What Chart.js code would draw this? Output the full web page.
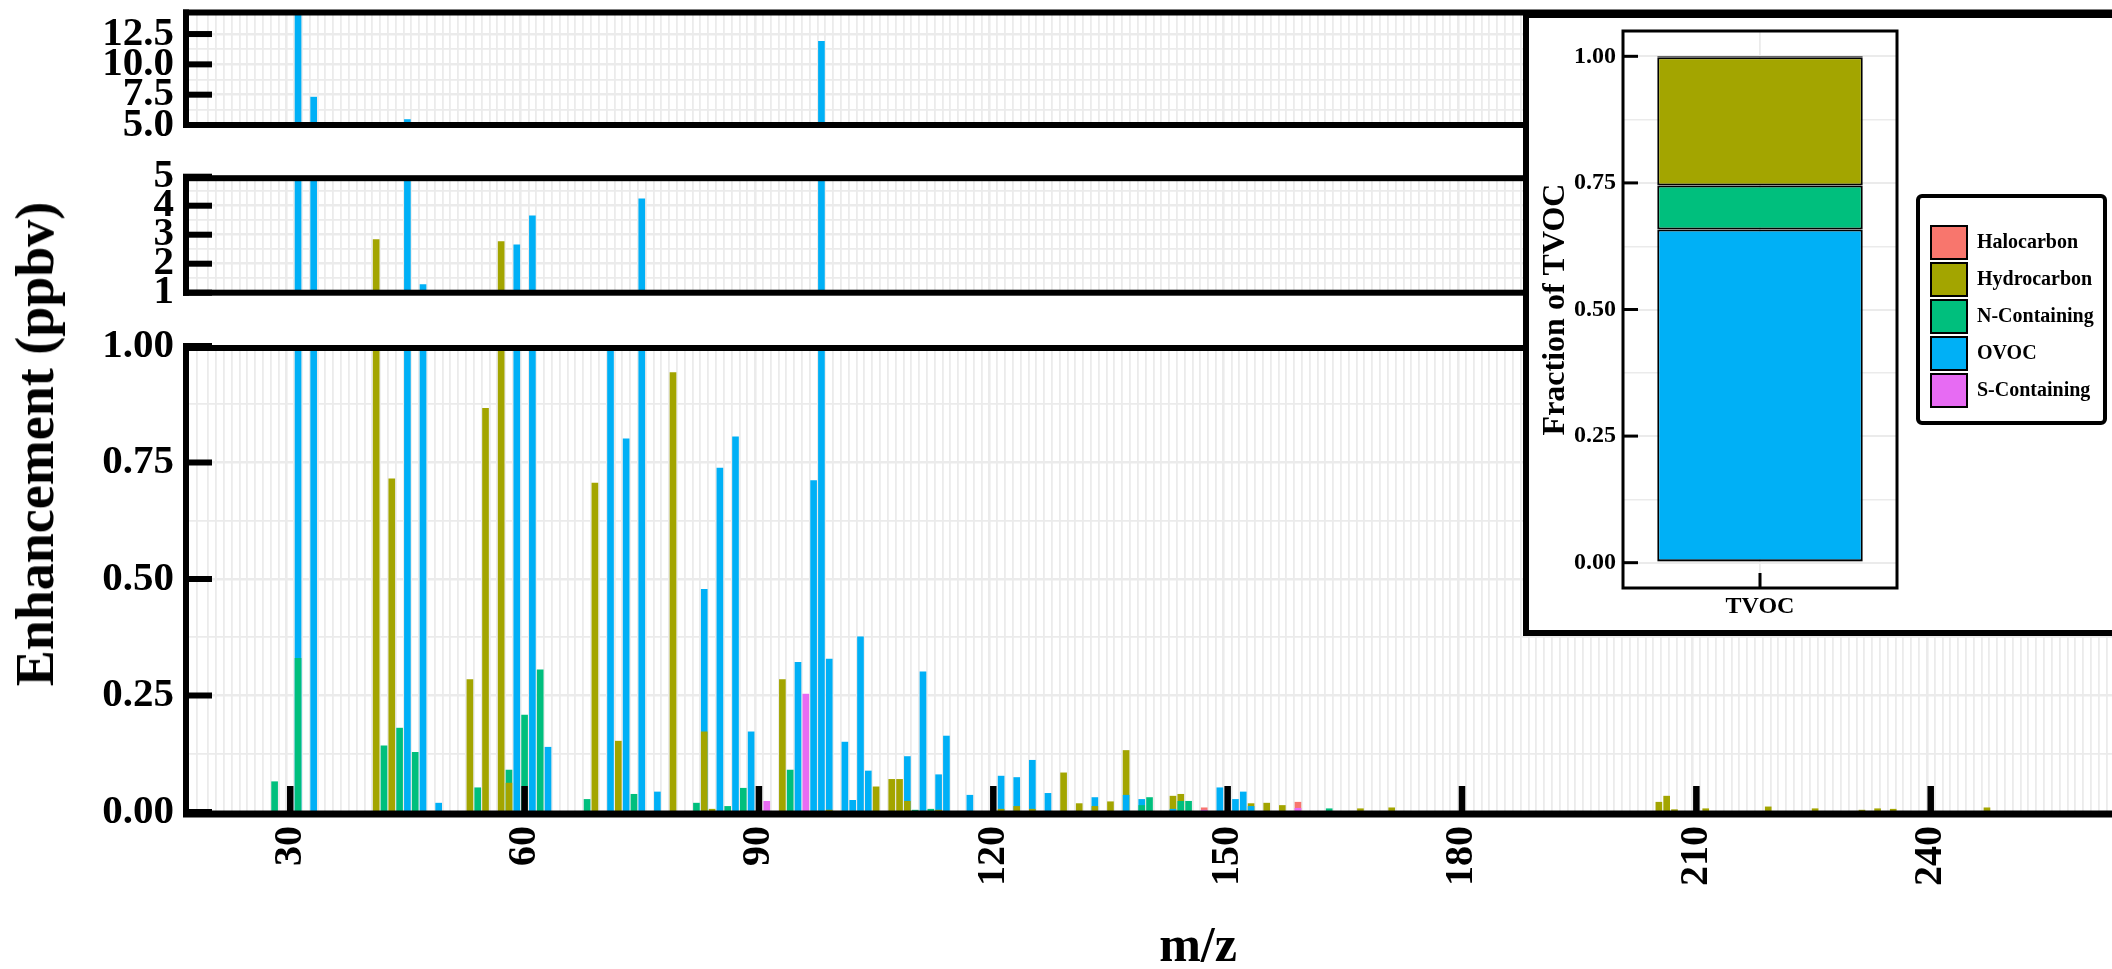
<!DOCTYPE html>
<html>
<head>
<meta charset="utf-8">
<title>Enhancement by m/z</title>
<script src="https://cdn.jsdelivr.net/npm/chart.js@4.4.1/dist/chart.umd.min.js"></script>
<style>
  html, body { margin: 0; padding: 0; width: 2112px; height: 969px; overflow: hidden; background: #fff; }
  .panel { position: absolute; left: 0; }
  #yTitle {
    position: absolute; left: 35px; top: 444px;
    transform: translate(-50%, -50%) rotate(-90deg);
    font: bold 54px 'Liberation Serif', 'Times New Roman', serif;
    line-height: 1; white-space: nowrap; color: #000;
  }
  #inset {
    position: absolute; left: 1523px; top: 12px; width: 700px; height: 612px;
    border: 6px solid #000; background: #fff;
  }
  #inset canvas { position: absolute; left: 0; top: 0; }
</style>
</head>
<body>
<canvas id="upper" class="panel" width="2210" height="140" style="top:0px"></canvas>
<canvas id="middle" class="panel" width="2210" height="160" style="top:150px"></canvas>
<canvas id="lower" class="panel" width="2210" height="700" style="top:330px"></canvas>
<div id="yTitle">Enhancement (ppbv)</div>
<div id="inset"><canvas id="tvoc" width="640" height="612"></canvas></div>

<script>
// ---- compound classes ----
const CATEGORIES = ['Halocarbon', 'Hydrocarbon', 'N-Containing', 'OVOC', 'S-Containing'];

// ---- enhancement (ppbv) per ion, one pair of arrays per class ----
const HALO_MZ  = [147, 159];
const HALO_VAL = [0.009, 0.021];

const HYDRO_MZ  = [41, 43, 53, 55, 57, 58, 69, 72, 79, 83,
                   84, 93, 99, 105, 107, 108, 109, 113, 121, 123,
                   125, 129, 131, 133, 135, 137, 143, 144, 153, 155,
                   157, 167, 171, 205.2, 206.2, 207.2, 211.2, 219.2, 225.2, 231.2,
                   233.2, 235.2, 247.2];
const HYDRO_VAL = [2.83, 0.715, 0.284, 0.866, 2.76, 0.062, 0.706, 0.152, 0.943, 0.172,
                   0.006, 0.284, 0.004, 0.054, 0.070, 0.070, 0.023, 0.004, 0.006, 0.012,
                   0.006, 0.084, 0.018, 0.012, 0.022, 0.132, 0.034, 0.038, 0.018, 0.019,
                   0.014, 0.007, 0.009, 0.021, 0.034, 0.005, 0.007, 0.011, 0.007, 0.004,
                   0.007, 0.006, 0.009];

const NCON_MZ  = [28, 31, 42, 44, 46, 54, 58, 60, 62, 68,
                  74, 82, 86, 88, 94, 110, 112, 139, 140, 144,
                  145, 163];
const NCON_VAL = [0.065, 0.330, 0.142, 0.180, 0.128, 0.052, 0.090, 0.208, 0.305, 0.027,
                  0.038, 0.019, 0.012, 0.051, 0.090, 0.004, 0.006, 0.014, 0.031, 0.023,
                  0.023, 0.007];

const OVOC_MZ  = [31, 33, 45, 47, 49, 59, 61, 63, 71, 73,
                  75, 77, 83, 85, 87, 89, 95, 97, 98, 99,
                  101, 102, 103, 104, 109, 111, 113, 114, 117, 121,
                  123, 125, 127, 133, 137, 139, 143, 149, 151, 152,
                  153];
const OVOC_VAL = [14.4, 7.3, 5.45, 1.28, 0.019, 2.65, 3.65, 0.139, 1.0, 0.801,
                  4.24, 0.043, 0.478, 0.738, 0.805, 0.172, 0.321, 0.711, 11.9, 0.328,
                  0.150, 0.025, 0.376, 0.088, 0.119, 0.301, 0.080, 0.163, 0.036, 0.077,
                  0.074, 0.111, 0.040, 0.031, 0.036, 0.027, 0.006, 0.052, 0.027, 0.043,
                  0.012];

const SCON_MZ  = [91, 96, 147, 159];
const SCON_VAL = [0.023, 0.253, 0.004, 0.008];

// ---- share of TVOC by class (same order as CATEGORIES) ----
const TVOC_LABELS = ['TVOC'];
const TVOC_FRACTION = [0.002, 0.253, 0.087, 0.655, 0.003];

// ---- tick labels ----
const MZ_TICKS = [30, 60, 90, 120, 150, 180, 210, 240, 270];
const UPPER_TICKS = [5, 7.5, 10, 12.5];
const MIDDLE_TICKS = [1, 2, 3, 4, 5];
const LOWER_TICKS = [0, 0.25, 0.5, 0.75, 1];
const FRACTION_TICKS = [0, 0.25, 0.5, 0.75, 1];

// ---- styling ----
const COLORS = ['#F8766D', '#A3A500', '#00BF7D', '#00B0F6', '#E76BF3'];
const GRID = '#EBEBEB';
const SERIF = "'Liberation Serif', 'Times New Roman', serif";

Chart.defaults.font.family = SERIF;
Chart.defaults.font.weight = 'bold';
Chart.defaults.color = '#000';

const SERIES = [
  { mz: HALO_MZ,  val: HALO_VAL },
  { mz: HYDRO_MZ, val: HYDRO_VAL },
  { mz: NCON_MZ,  val: NCON_VAL },
  { mz: OVOC_MZ,  val: OVOC_VAL },
  { mz: SCON_MZ,  val: SCON_VAL }
];

const isIn = (list, v) => list.some(t => Math.abs(t - v) < 1e-6);

// Bars of different classes sharing a nominal mass overlap; the taller one sits
// underneath, so bars are split into layers by height rank at each mass.
function buildLayers() {
  const groups = new Map();
  SERIES.forEach((s, si) => s.mz.forEach((m, k) => {
    const key = Math.round(m);
    if (!groups.has(key)) groups.set(key, []);
    groups.get(key).push({ x: m, y: s.val[k], si });
  }));
  const layers = [];
  for (const bars of groups.values()) {
    bars.sort((a, b) => b.y - a.y);
    bars.forEach((b, depth) => { (layers[depth] = layers[depth] || []).push(b); });
  }
  return layers.map((pts, depth) => ({
    label: 'rank ' + depth,
    data: pts.map(p => ({ x: p.x, y: p.y })),
    backgroundColor: pts.map(p => COLORS[p.si]),
    borderWidth: 0,
    grouped: false,
    barThickness: 6,
    clip: 0,
    order: -depth
  }));
}

// Thick panel frame with inward-pointing ticks
const panelFrame = {
  id: 'panelFrame',
  afterDatasetsDraw(chart, args, opts) {
    const { ctx, chartArea: a, scales } = chart;
    const lw = 6;
    ctx.save();
    ctx.fillStyle = '#000';
    const yTop = a.top + opts.topShift;
    const yBot = a.bottom + opts.bottomShift;
    ctx.fillRect(a.left - lw / 2, yTop - lw / 2, a.right - a.left + lw, lw);
    ctx.fillRect(a.left - lw / 2, yBot - lw / 2, a.right - a.left + lw, opts.bottomWidth);
    ctx.fillRect(a.left - lw / 2, yTop - lw / 2, lw, yBot - yTop + lw);
    for (const v of opts.yTicks) {
      const y = scales.y.getPixelForValue(v);
      ctx.fillRect(a.left - lw / 2, y - 3, 29, 6);
    }
    for (const v of (opts.xTicks || [])) {
      const x = scales.x.getPixelForValue(v);
      ctx.fillRect(x - 3.25, a.bottom - 26, 6.5, 26);
    }
    ctx.restore();
  }
};

function panelChart(id, cfg) {
  return new Chart(document.getElementById(id), {
    type: 'bar',
    data: { datasets: buildLayers() },
    options: {
      responsive: false,
      animation: false,
      devicePixelRatio: 1,
      layout: { padding: { top: cfg.padTop, bottom: cfg.padBottom, left: 0, right: 0 } },
      plugins: {
        legend: { display: false },
        tooltip: { enabled: false },
        panelFrame: {
          yTicks: cfg.majors, xTicks: cfg.xTicks,
          topShift: cfg.topShift, bottomShift: cfg.bottomShift, bottomWidth: cfg.bottomWidth
        }
      },
      scales: {
        x: {
          type: 'linear', min: 17.16, max: 275.25,
          ticks: {
            display: cfg.showX, stepSize: 1, autoSkip: false,
            minRotation: 90, maxRotation: 90, padding: 14,
            font: { size: 40, weight: 'bold' },
            callback: v => MZ_TICKS.includes(v) ? String(v) : ''
          },
          grid: {
            color: GRID, drawTicks: false,
            lineWidth: c => (c.tick && MZ_TICKS.includes(c.tick.value)) ? 2.6 : 1.8
          },
          border: { display: false },
          title: cfg.xTitle || { display: false },
          afterFit: s => { s.height = cfg.xHeight; s.paddingLeft = 0; s.paddingRight = 0; }
        },
        y: {
          min: cfg.min, max: cfg.max,
          ticks: {
            stepSize: cfg.step, padding: 12, autoSkip: false,
            font: { size: 41, weight: 'bold' },
            callback: v => isIn(cfg.majors, v) ? cfg.fmt(v) : ''
          },
          grid: {
            color: GRID, drawTicks: false,
            lineWidth: c => (c.tick && isIn(cfg.majors, c.tick.value)) ? 2.4 : 1.8
          },
          border: { display: false },
          afterFit: s => { s.width = 186; s.paddingTop = 0; s.paddingBottom = 0; }
        }
      }
    },
    plugins: [panelFrame]
  });
}

panelChart('upper', {
  min: 5, max: 14.4, step: 1.25, majors: UPPER_TICKS, fmt: v => v.toFixed(1),
  padTop: 11, padBottom: 15, xHeight: 0, showX: false,
  topShift: 1.5, bottomShift: 0, bottomWidth: 6
});

panelChart('middle', {
  min: 1, max: 5, step: 0.5, majors: MIDDLE_TICKS, fmt: v => String(v),
  padTop: 26.7, padBottom: 17.3, xHeight: 0, showX: false,
  topShift: 1.5, bottomShift: 0, bottomWidth: 6
});

panelChart('lower', {
  min: 0, max: 1, step: 0.125, majors: LOWER_TICKS, fmt: v => v.toFixed(2),
  padTop: 16, padBottom: 0, xHeight: 218, showX: true, xTicks: MZ_TICKS,
  topShift: 2, bottomShift: 1.5, bottomWidth: 7,
  xTitle: { display: true, text: 'm/z', font: { size: 50, weight: 'bold' }, padding: { top: 0, bottom: 52 } }
});

// ---- TVOC composition (stacked) ----
const insetFrame = {
  id: 'insetFrame',
  afterDatasetsDraw(chart) {
    const { ctx, chartArea: a, scales } = chart;
    ctx.save();
    ctx.strokeStyle = '#000';
    ctx.lineWidth = 3;
    ctx.strokeRect(a.left, a.top, a.right - a.left, a.bottom - a.top);
    ctx.fillStyle = '#000';
    for (const v of FRACTION_TICKS) {
      const y = scales.y.getPixelForValue(v);
      ctx.fillRect(a.left, y - 1.5, 15, 3);
    }
    const xc = scales.x.getPixelForValue(0);
    ctx.fillRect(xc - 1.5, a.bottom - 15, 3, 15);
    ctx.restore();
  },
  afterDraw(chart) {
    const hb = chart.legend && chart.legend.legendHitBoxes;
    if (!hb || !hb.length) return;
    const { ctx } = chart;
    const first = hb[0], last = hb[hb.length - 1];
    const left = first.left - 13, top = first.top - 30;
    const w = 187, h = (last.top + last.height + 16) - top;
    ctx.save();
    ctx.strokeStyle = '#000';
    ctx.lineWidth = 4;
    ctx.beginPath();
    if (ctx.roundRect) ctx.roundRect(left, top, w, h, 4); else ctx.rect(left, top, w, h);
    ctx.stroke();
    ctx.restore();
  }
};

const tvocChart = new Chart(document.getElementById('tvoc'), {
  type: 'bar',
  data: {
    labels: TVOC_LABELS,
    datasets: CATEGORIES.map((name, i) => ({
      label: name,
      data: [TVOC_FRACTION[i]],
      backgroundColor: COLORS[i],
      borderColor: '#000',
      borderWidth: 2,
      borderSkipped: false,
      barPercentage: 0.75,
      categoryPercentage: 1,
      order: CATEGORIES.length - 1 - i
    }))
  },
  options: {
    responsive: false,
    animation: false,
    devicePixelRatio: 1,
    layout: { padding: { top: 13, bottom: 0, left: 0, right: 0 } },
    plugins: {
      tooltip: { enabled: false },
      legend: {
        display: true, position: 'right', fullSize: false, align: 'center',
        labels: {
          boxWidth: 36, boxHeight: 33, padding: 4, color: '#000',
          font: { size: 20, weight: 'bold' },
          sort: (a, b) => a.datasetIndex - b.datasetIndex
        },
        title: { display: true, text: ' ', font: { size: 14, lineHeight: 1 }, padding: 0 }
      }
    },
    scales: {
      x: {
        stacked: true,
        ticks: { font: { size: 24, weight: 'bold' }, padding: 4 },
        grid: { color: GRID, lineWidth: 1.8, offset: false, drawTicks: false },
        border: { display: false },
        afterFit: s => { s.height = 42; s.paddingLeft = 0; s.paddingRight = 0; }
      },
      y: {
        stacked: true, min: -0.05, max: 1.05,
        ticks: {
          padding: 7, font: { size: 24, weight: 'bold' },
          callback: v => isIn(FRACTION_TICKS, v) ? v.toFixed(2) : ''
        },
        // grid every eighth, labels on the quarters
        afterBuildTicks: s => {
          const t = [];
          for (let k = 0; k <= 8; k++) t.push({ value: k / 8 });
          s.ticks = t;
        },
        grid: {
          color: GRID, drawTicks: false,
          lineWidth: c => (c.tick && isIn(FRACTION_TICKS, c.tick.value)) ? 2 : 1.4
        },
        border: { display: false },
        title: { display: true, text: 'Fraction of TVOC', font: { size: 32, weight: 'bold' }, padding: { top: 8, bottom: 0 } },
        afterFit: s => { s.width = 94; s.paddingTop = 0; s.paddingBottom = 0; }
      },
      gap: {
        type: 'linear', position: 'right', display: true,
        grid: { display: false, drawTicks: false },
        border: { display: false },
        ticks: { display: false },
        afterFit: s => { s.width = 30; s.paddingTop = 0; s.paddingBottom = 0; }
      }
    }
  },
  plugins: [insetFrame, {
    id: 'legendWidth',
    afterInit(chart) {
      const lg = chart.legend;
      const fit = lg.fit.bind(lg);
      lg.fit = function () { fit(); this.width = 242; };
    }
  }]
});
</script>
</body>
</html>
